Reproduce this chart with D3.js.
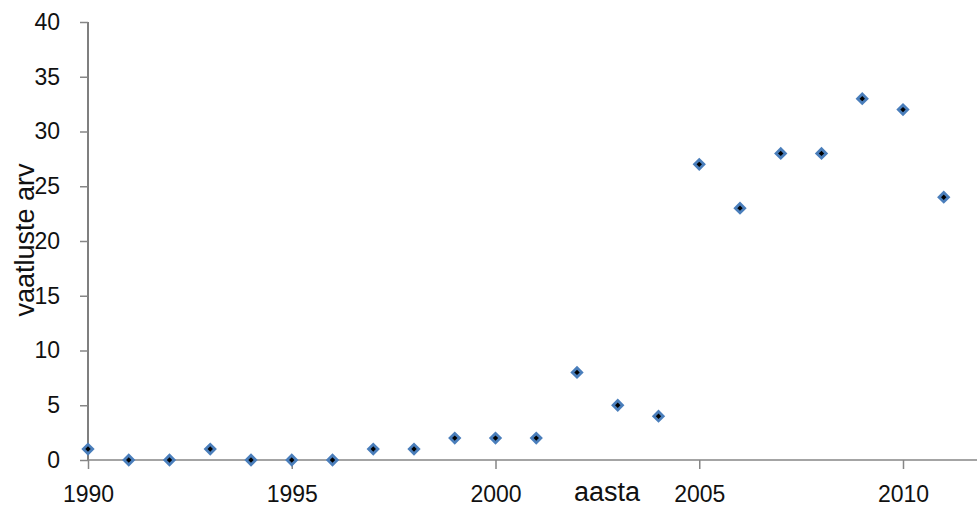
<!DOCTYPE html>
<html>
<head>
  <meta charset="utf-8">
  <title>Vaatluste arv</title>
  <script src="https://cdn.jsdelivr.net/npm/d3@7"></script>
  <style>
    body { margin: 0; background: #fff; }
    svg { display: block; }
    .tick text { font-family: "Liberation Sans", Arial, sans-serif; font-size: 23px; fill: #111; }
    .lbl { font-family: "Liberation Sans", Arial, sans-serif; font-size: 27px; fill: #111; }
  </style>
</head>
<body>
<svg id="chart" width="977" height="513"></svg>
<script>
// data
var years  = [1990, 1991, 1992, 1993, 1994, 1995, 1996, 1997, 1998, 1999, 2000,
              2001, 2002, 2003, 2004, 2005, 2006, 2007, 2008, 2009, 2010, 2011];
var counts = [1, 0, 0, 1, 0, 0, 0, 1, 1, 2, 2,
              2, 8, 5, 4, 27, 23, 28, 28, 33, 32, 24];
var xTicks = [1990, 1995, 2000, 2005, 2010];
var yTicks = [0, 5, 10, 15, 20, 25, 30, 35, 40];

var svg = d3.select('#chart');

var x = d3.scaleLinear().domain([1990, 2012]).range([88, 984.5]);
var y = d3.scaleLinear().domain([0, 40]).range([460, 22]);

// y axis
var yAxis = svg.append('g')
    .attr('transform', 'translate(88,0)')
    .call(d3.axisLeft(y).tickValues(yTicks).tickSize(8).tickPadding(20).tickFormat(d3.format('d')));

// x axis
var xAxis = svg.append('g')
    .attr('transform', 'translate(0,460)')
    .call(d3.axisBottom(x).tickValues(xTicks).tickSize(9).tickPadding(17).tickFormat(d3.format('d')));

[yAxis, xAxis].forEach(function(g) {
  g.select('.domain').attr('stroke', '#868686').attr('stroke-width', 1.5);
  g.selectAll('.tick line').attr('stroke', '#868686').attr('stroke-width', 1.5);
});
yAxis.select('.domain').attr('d', 'M0,' + y(40) + 'V' + y(0));
yAxis.select('.domain').attr('stroke', '#555');
xAxis.select('.domain').attr('d', 'M' + x(1990) + ',0H' + x(2012));

// markers
var diamond = d3.symbol().type(d3.symbolSquare).size(44);
svg.append('g').selectAll('path')
    .data(years)
    .join('path')
    .attr('d', diamond)
    .attr('transform', function(d, i) { return 'translate(' + x(d) + ',' + y(counts[i]) + ') rotate(45)'; })
    .attr('fill', '#000')
    .attr('stroke', '#4a7ebb')
    .attr('stroke-width', 2.8);

// axis titles
svg.append('text')
    .attr('class', 'lbl')
    .attr('x', 607)
    .attr('y', 501)
    .attr('text-anchor', 'middle')
    .text('aasta');

svg.append('text')
    .attr('class', 'lbl')
    .attr('transform', 'translate(34,240) rotate(-90)')
    .attr('text-anchor', 'middle')
    .text('vaatluste arv');
</script>
</body>
</html>
